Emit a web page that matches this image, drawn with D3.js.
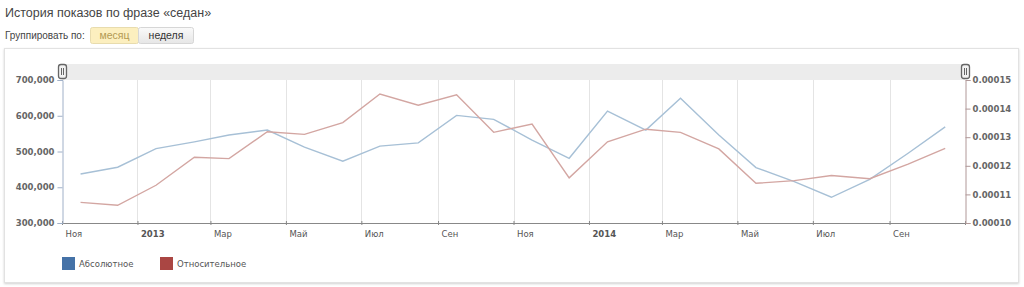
<!DOCTYPE html>
<html>
<head>
<meta charset="utf-8">
<script src="https://cdn.jsdelivr.net/npm/d3@7"></script>
<style>
    body { margin: 0; background: #fff; }
    svg { display: block; font-family: "DejaVu Sans", Verdana, sans-serif; }
</style>
</head>
<body>
<div id="chart"></div>
<script>
// monthly points (placed mid-month)
var months = ["2012-11", "2012-12", "2013-01", "2013-02", "2013-03", "2013-04", "2013-05", "2013-06",
              "2013-07", "2013-08", "2013-09", "2013-10", "2013-11", "2013-12", "2014-01", "2014-02",
              "2014-03", "2014-04", "2014-05", "2014-06", "2014-07", "2014-08", "2014-09", "2014-10"];
var absolute = [437000, 456000, 508000, 527000, 546000, 560000, 512000, 473000,
                515000, 524000, 601000, 590000, 532000, 481000, 613000, 560000,
                649000, 546000, 455000, 416000, 372000, 422000, 495000, 569000];
var relative = [0.0001072, 0.0001062, 0.0001132, 0.0001230, 0.0001225, 0.0001319, 0.0001310, 0.0001351,
                0.0001451, 0.0001412, 0.0001448, 0.0001317, 0.0001346, 0.0001158, 0.0001284, 0.0001328,
                0.0001317, 0.0001259, 0.0001139, 0.0001148, 0.0001166, 0.0001155, 0.0001206, 0.0001261];
var leftTicks = [300000, 400000, 500000, 600000, 700000];
var rightTicks = [0.00010, 0.00011, 0.00012, 0.00013, 0.00014, 0.00015];
var xTickDates = ["2012-11", "2013-01", "2013-03", "2013-05", "2013-07", "2013-09",
                  "2013-11", "2014-01", "2014-03", "2014-05", "2014-07", "2014-09", "2014-11"];
var xTickLabels = ["Ноя", "2013", "Мар", "Май", "Июл", "Сен", "Ноя", "2014", "Мар", "Май", "Июл", "Сен", ""];
var seriesNames = ["Абсолютное", "Относительное"];
var seriesColors = ["#4572A7", "#AA4643"];

var width = 1024, height = 287;
var plotLeft = 62, plotRight = 965, plotTop = 80, plotBottom = 223;

var parseMonth = d3.timeParse("%Y-%m");
var mid = function (s) { return d3.timeDay.offset(parseMonth(s), 15); };

var x = d3.scaleTime()
    .domain([parseMonth("2012-11"), parseMonth("2014-11")])
    .range([plotLeft, plotRight]);
var yL = d3.scaleLinear().domain([300000, 700000]).range([plotBottom, plotTop]);
var yR = d3.scaleLinear().domain([0.00010, 0.00015]).range([plotBottom, plotTop]);

var svg = d3.select('#chart').append('svg')
    .attr('width', width)
    .attr('height', height);

// header
svg.append('text').attr('x', 5).attr('y', 17)
    .style('font-family', '"Liberation Sans", Arial, sans-serif')
    .style('font-size', '12.5px').style('fill', '#444')
    .text('История показов по фразе «седан»');
svg.append('text').attr('x', 5).attr('y', 39)
    .style('font-family', '"Liberation Sans", Arial, sans-serif')
    .style('font-size', '10px').style('fill', '#444')
    .text('Группировать по:');

var defs = svg.append('defs');
var grad = defs.append('linearGradient').attr('id', 'btn').attr('x1', 0).attr('x2', 0).attr('y1', 0).attr('y2', 1);
grad.append('stop').attr('offset', 0).attr('stop-color', '#fafafa');
grad.append('stop').attr('offset', 1).attr('stop-color', '#e6e6e6');
var shadow = defs.append('filter').attr('id', 'shadow').attr('x', -0.05).attr('y', -0.05).attr('width', 1.1).attr('height', 1.1);
shadow.append('feDropShadow').attr('dx', 0).attr('dy', 1).attr('stdDeviation', 1.2)
    .attr('flood-color', '#000').attr('flood-opacity', 0.18);

svg.append('rect').attr('x', 90.5).attr('y', 27.5).attr('width', 48).attr('height', 16)
    .attr('rx', 2).style('fill', '#fcefbf').style('stroke', '#e8dcae');
svg.append('rect').attr('x', 138.5).attr('y', 27.5).attr('width', 55).attr('height', 16)
    .attr('rx', 2).style('fill', 'url(#btn)').style('stroke', '#d6d6d6');
svg.append('text').attr('x', 114.5).attr('y', 39).attr('text-anchor', 'middle')
    .style('font-family', '"Liberation Sans", Arial, sans-serif')
    .style('font-size', '10.5px').style('fill', '#b39a52').text('месяц');
svg.append('text').attr('x', 166).attr('y', 39).attr('text-anchor', 'middle')
    .style('font-family', '"Liberation Sans", Arial, sans-serif')
    .style('font-size', '10.5px').style('fill', '#333').text('неделя');

// chart frame
svg.append('rect').attr('x', 4.5).attr('y', 48.5).attr('width', 1014).attr('height', 234)
    .style('fill', '#fff').style('stroke', '#e2e2e2').attr('filter', 'url(#shadow)');

// navigator band
svg.append('rect').attr('x', plotLeft).attr('y', 64).attr('width', plotRight - plotLeft).attr('height', 16)
    .style('fill', '#ececec');

// vertical grid
svg.append('g').selectAll('line')
    .data(xTickDates.slice(1, -1))
    .enter().append('line')
    .attr('x1', function (d) { return Math.round(x(parseMonth(d))) + 0.5; })
    .attr('x2', function (d) { return Math.round(x(parseMonth(d))) + 0.5; })
    .attr('y1', plotTop).attr('y2', plotBottom)
    .style('stroke', '#e4e4e4');

// x axis
var xAxis = d3.axisBottom(x)
    .tickValues(xTickDates.map(parseMonth))
    .tickSize(4)
    .tickFormat(function (d, i) { return xTickLabels[i]; });
var gx = svg.append('g').attr('transform', 'translate(0,' + (plotBottom - 2) + ')').call(xAxis);
gx.select('.domain').attr('d', 'M' + plotLeft + ',2.5H' + plotRight).style('stroke', '#888');
gx.selectAll('.tick line').style('stroke', '#888');
gx.selectAll('.tick text')
    .attr('text-anchor', 'start').attr('x', 3).attr('y', 10)
    .style('font-family', '"DejaVu Sans", Verdana, sans-serif')
    .style('font-size', '8.5px').style('fill', '#555')
    .style('font-weight', function (d, i) { return /^\d+$/.test(xTickLabels[i]) ? 'bold' : 'normal'; });

// left axis
var gl = svg.append('g').attr('transform', 'translate(' + (plotLeft + 0.5) + ',0)')
    .call(d3.axisLeft(yL).tickValues(leftTicks).tickSize(5).tickPadding(3).tickFormat(d3.format(',')));
gl.select('.domain').style('stroke', '#a0b0c8');
gl.selectAll('.tick line').style('stroke', '#a0b0c8');
gl.selectAll('.tick text').style('font-family', '"DejaVu Sans", Verdana, sans-serif')
    .style('font-size', '8.5px').style('fill', '#666').style('font-weight', 'bold');

// right axis
var gr = svg.append('g').attr('transform', 'translate(' + (plotRight + 0.5) + ',0)')
    .call(d3.axisRight(yR).tickValues(rightTicks).tickSize(5).tickPadding(2).tickFormat(d3.format('.5f')));
gr.select('.domain').style('stroke', '#b09898');
gr.selectAll('.tick line').style('stroke', '#b09898');
gr.selectAll('.tick text').style('font-family', '"DejaVu Sans", Verdana, sans-serif')
    .style('font-size', '8.5px').style('fill', '#666').style('font-weight', 'bold');

// navigator handles
svg.append('g').selectAll('rect')
    .data([plotLeft, plotRight])
    .enter().append('rect')
    .attr('x', function (d) { return d - 3.5; }).attr('y', 64.5)
    .attr('width', 8).attr('height', 14).attr('rx', 2.5)
    .style('fill', '#f2f2f2').style('stroke', '#666').style('stroke-width', 1.3);
svg.append('g').selectAll('path')
    .data([plotLeft, plotRight])
    .enter().append('path')
    .attr('d', function (d) { return 'M' + (d - 0.5) + ',68V75M' + (d + 1.5) + ',68V75'; })
    .style('stroke', '#666').style('stroke-width', 1);

// lines
var lineL = d3.line().x(function (d, i) { return x(mid(months[i])); }).y(function (d) { return yL(d); });
var lineR = d3.line().x(function (d, i) { return x(mid(months[i])); }).y(function (d) { return yR(d); });

svg.append('path').datum(absolute).attr('d', lineL)
    .style('fill', 'none').style('stroke', '#a7c0d6').style('stroke-width', 1.4);
svg.append('path').datum(relative).attr('d', lineR)
    .style('fill', 'none').style('stroke', '#d3a6a2').style('stroke-width', 1.4);

// legend
var legend = svg.append('g').selectAll('g')
    .data(seriesNames)
    .enter().append('g')
    .attr('transform', function (d, i) { return 'translate(' + [62, 160][i] + ',257)'; });
legend.append('rect').attr('width', 13).attr('height', 13)
    .style('fill', function (d, i) { return seriesColors[i]; });
legend.append('text').attr('x', 17).attr('y', 10)
    .style('font-family', '"DejaVu Sans", Verdana, sans-serif')
    .style('font-size', '8.5px').style('fill', '#555')
    .text(function (d) { return d; });
</script>
</body>
</html>
